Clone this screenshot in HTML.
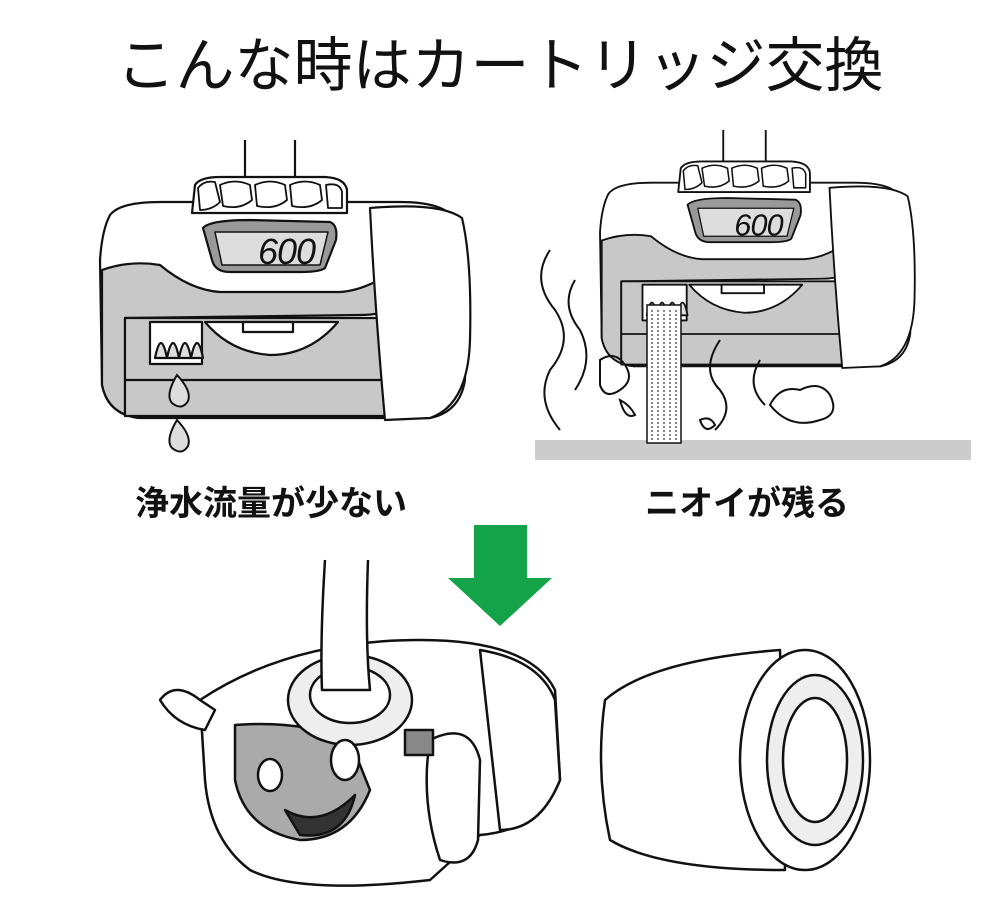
<!DOCTYPE html>
<html><head><meta charset="utf-8"><style>
body{margin:0;background:#fff;width:1000px;height:898px;overflow:hidden}
svg{position:absolute;left:0;top:0}
.t{font-family:"Liberation Sans","Noto Sans CJK JP",sans-serif}
</style></head><body>
<svg width="1000" height="898" viewBox="0 0 1000 898">
<defs>
<g id="dev" stroke="#111" stroke-width="2.2" stroke-linejoin="round">
  <line x1="145" y1="0" x2="145" y2="40"/><line x1="195" y1="0" x2="195" y2="40"/>
  <path d="M10 75 Q20 62 60 62 L300 62 Q345 62 355 80 L365 120 L365 240 Q360 272 330 278 L40 278 Q8 275 2 245 L0 120 Q2 90 10 75Z" fill="#fff"/>
  <path d="M2 130 Q30 120 60 125 Q90 150 120 152 L240 152 Q270 150 300 125 L300 168 Q280 175 260 175 L25 178 L25 275 L40 278 Q8 275 2 245Z" fill="#c8c8c8"/>
  <rect x="25" y="178" width="263" height="98" fill="#c8c8c8"/>
  <line x1="25" y1="240" x2="288" y2="240"/>
  <path d="M105 182 L238 182 Q210 215 170 215 Q130 212 105 182Z" fill="#fff"/>
  <rect x="143" y="182" width="50" height="10" fill="#fff"/>
  <rect x="50" y="182" width="52" height="42" fill="#fff"/>
  <path d="M55 218 q6 -30 12 0z M67 218 q6 -30 12 0z M79 218 q6 -30 12 0z M91 218 q6 -30 12 0z" fill="#ddd"/>
  <path d="M270 68 Q340 62 362 78 Q372 120 370 200 Q368 265 330 278 L285 280 Q275 170 270 68Z" fill="#fff"/>
  <path d="M103 88 Q110 80 150 80 L230 82 Q238 85 236 100 L225 128 Q220 132 200 132 L130 132 Q115 132 112 120Z" fill="#999"/>
  <path d="M115 92 L228 92 L220 125 L122 125Z" fill="#ddd" stroke-width="1.5"/>
  <text x="158" y="124" font-family="Liberation Sans,sans-serif" font-size="36" font-style="italic" fill="#111" stroke="none" letter-spacing="-1">600</text>
  <path d="M92 73 L95 45 Q100 37 120 37 L225 37 Q245 38 247 50 L247 73Z" fill="#fff"/>
  <path d="M100 70 L98 48 Q104 40 115 42 L120 62 Q112 70 100 70z M123 66 L120 45 Q135 38 150 45 L152 60 Q140 70 123 66z M157 66 L155 45 Q170 38 185 45 L187 60 Q175 70 157 66z M192 66 L190 45 Q205 38 220 45 L222 60 Q210 70 192 66z M228 68 L226 45 Q240 42 242 52 L242 68z" fill="#fff" stroke-width="1.8"/>
</g>
</defs>
<text class="t" x="500" y="86" font-size="59" text-anchor="middle" fill="#111">こんな時はカートリッジ交換</text>
<use href="#dev" transform="translate(100,140)"/>
<path d="M177 375 q-12 20 -5 28 q10 8 16 -2 q4 -10 -11 -26z M177 420 q-12 20 -5 28 q10 8 16 -2 q4 -10 -11 -26z" fill="#ddd" stroke="#111" stroke-width="2"/>
<rect x="535" y="440" width="436" height="20" fill="#ccc"/>
<use href="#dev" transform="translate(600,130) scale(0.85)"/>
<rect x="647" y="305" width="34" height="138" fill="#fff" stroke="#111" stroke-width="1.5"/>
<path d="M652 310 L652 440 M658 310 L658 440 M664 310 L664 440 M670 310 L670 440 M676 310 L676 440" stroke="#888" stroke-width="2" stroke-dasharray="2 2"/>
<g fill="none" stroke="#111" stroke-width="2">
<path d="M550 250 q-20 30 5 60 q20 30 -5 60 q-15 30 10 60"/>
<path d="M575 280 q-15 25 5 50 q15 30 -5 60"/>
<path d="M720 340 q-20 30 0 50 q15 20 -5 40"/>
<path d="M760 360 q-15 25 5 45"/>
<path d="M600 360 q15 -10 25 5 q10 15 -5 25 q-15 10 -20 -5z"/>
<path d="M770 405 q10 -20 30 -15 q20 -10 30 5 q10 20 -10 25 q-30 10 -50 -15z"/>
<path d="M620 400 q10 5 15 15 q-10 5 -15 -15z M700 420 q10 -5 15 5 q-10 10 -15 -5z"/>
</g>
<text class="t" x="135" y="515" font-size="34" font-weight="bold" fill="#111">浄水流量が少ない</text>
<text class="t" x="645" y="515" font-size="34" font-weight="bold" fill="#111">ニオイが残る</text>
<path d="M474 525 L527 525 L527 578 L552 578 L500 626 L448 578 L474 578Z" fill="#15a34a"/>
<g stroke="#111" stroke-width="2.5" stroke-linejoin="round">
<path d="M200 700 Q290 640 420 640 Q530 640 555 690 L560 780 Q540 830 480 835 L430 880 Q300 895 250 870 Q210 840 205 780Z" fill="#fff"/>
<path d="M235 725 Q300 720 350 740 L370 790 Q350 840 300 840 Q245 830 235 780Z" fill="#aaa"/>
<ellipse cx="350" cy="700" rx="62" ry="45" fill="#eee"/>
<ellipse cx="350" cy="695" rx="40" ry="28" fill="#fff"/>
<path d="M325 560 Q320 640 322 690 L370 690 Q365 640 368 560" fill="#fff"/>
<path d="M480 650 Q540 660 555 700 L560 780 Q540 830 500 830 L480 650Z" fill="#fff"/>
<path d="M430 740 Q470 720 480 760 L478 840 Q470 870 440 860 Q420 800 430 740Z" fill="#fff"/>
<rect x="405" y="730" width="28" height="25" fill="#888"/>
<path d="M160 700 Q175 680 200 700 L215 710 L205 730 Q175 725 160 700Z" fill="#fff"/>
<ellipse cx="270" cy="775" rx="12" ry="16" fill="#fff"/><ellipse cx="345" cy="760" rx="14" ry="20" fill="#fff"/>
<path d="M285 810 Q320 830 355 795 Q345 840 300 835Z" fill="#333"/>
<path d="M605 700 Q650 660 780 650 L785 870 Q660 870 610 840 Q595 770 605 700Z" fill="#fff"/>
<ellipse cx="805" cy="760" rx="65" ry="110" fill="#fff"/>
<ellipse cx="815" cy="760" rx="48" ry="85" fill="#eee"/>
<ellipse cx="815" cy="760" rx="32" ry="62" fill="#fff"/>
</g>
</svg>
</body></html>
